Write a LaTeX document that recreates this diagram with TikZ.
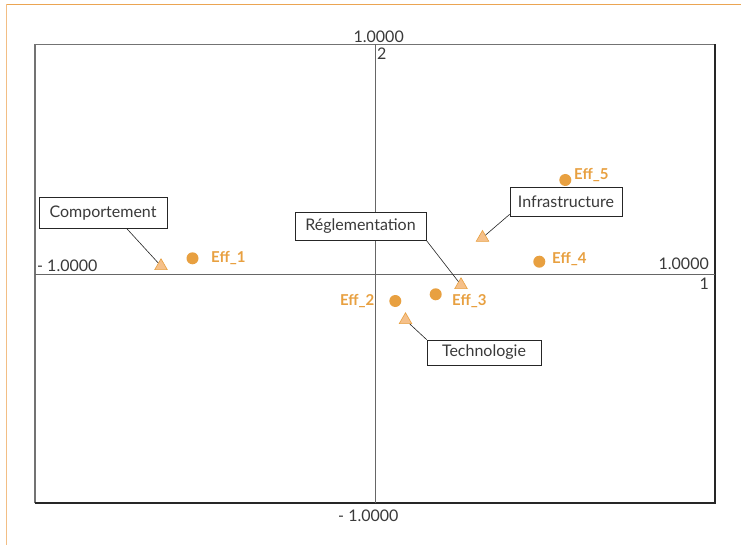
\documentclass[tikz,border=0pt]{standalone}
\usepackage{fontspec}
\setmainfont{Lato}
\usetikzlibrary{shapes.geometric}
\definecolor{orangeA}{HTML}{E8A040}
\definecolor{orangeL}{HTML}{F5C08A}
\definecolor{frameO}{HTML}{EBA552}
\definecolor{frameOL}{HTML}{F2BE85}
\definecolor{txt}{HTML}{3A3A3A}
\tikzset{
 axlab/.style={inner sep=0pt, text=txt, font=\fontsize{16}{19}\selectfont},
 efflab/.style={inner sep=0pt, text=orangeA, font=\fontsize{15}{18}\selectfont\bfseries},
 effdot/.style={circle, fill=orangeA, minimum size=12pt, inner sep=0pt},
 factri/.style={regular polygon, regular polygon sides=3, draw=orangeA, fill=orangeL, minimum size=14.5pt, inner sep=0pt, line width=0.6pt},
 labbox/.style={draw=black!85, fill=white, line width=0.7pt, text=txt, font=\fontsize{16}{19}\selectfont, inner sep=0pt},
 conn/.style={draw=black!85, line width=0.6pt},
 frameline/.style={line width=1.6pt},
 axisline/.style={draw=black!60, line width=1pt},
}
\begin{document}
\begin{tikzpicture}[x=1pt,y=-1pt]
\useasboundingbox (0,0) rectangle (741,545);
\fill[white] (0,0) rectangle (741,545);
% outer orange frame
\draw[frameline, frameO] (6,4.5) -- (741,4.5);
\draw[frameline, frameOL] (6.5,4.5) -- (6.5,545);
% plot frame
\draw[line width=1.2pt, black!55] (35,503) -- (35,44.5) -- (715,44.5);
\draw[line width=1.2pt, black!85] (715,44.5) -- (715,503) -- (35,503);
% axes
\draw[axisline] (375.5,44.5) -- (375.5,503);
\draw[axisline] (35,274) -- (715,274);
% axis labels
\node[axlab, anchor=base east] (ytop) at (404,42.5) {1.0000};
\node[axlab, anchor=base west] (yname) at (377,60) {2};
\node[axlab, anchor=base west] (xleft) at (37,271.5) {- 1.0000};
\node[axlab, anchor=base east] (xright) at (709,269.5) {1.0000};
\node[axlab, anchor=base east] (xname) at (709,289) {1};
\node[axlab, anchor=base west] (ybot) at (338,521) {- 1.0000};
% effects
\node[effdot] (e1) at (192.5,258.3) {};
\node[effdot] (e2) at (395.3,301) {};
\node[effdot] (e3) at (435.7,294.3) {};
\node[effdot] (e4) at (539.3,261.7) {};
\node[effdot] (e5) at (565.3,180) {};
\node[efflab, anchor=base west] (l1) at (211,262.5) {Eff\_1};
\node[efflab, anchor=base east] (l2) at (374.5,305) {Eff\_2};
\node[efflab, anchor=base west] (l3) at (452,305) {Eff\_3};
\node[efflab, anchor=base west] (l4) at (552,263) {Eff\_4};
\node[efflab, anchor=base west] (l5) at (574,180) {Eff\_5};
% factors
\node[factri] (tC) at (161,266) {};
\node[factri] (tR) at (461,285) {};
\node[factri] (tI) at (482.5,237.7) {};
\node[factri] (tT) at (405.5,320) {};
% label boxes
\node[labbox, minimum width=128pt, minimum height=31pt] (bC) at (103,213) {Comportement};
\node[labbox, minimum width=131pt, minimum height=28pt] (bR) at (360.5,226) {Réglementation};
\node[labbox, minimum width=112pt, minimum height=29pt] (bI) at (566,201.5) {Infrastructure};
\node[labbox, minimum width=114pt, minimum height=25pt] (bT) at (484,352.5) {Technologie};
% connectors
\draw[conn] ([xshift=24pt]bC.south) -- (tC);
\draw[conn] (bR.south east) -- (tR);
\draw[conn] ([yshift=2pt]bI.south west) -- (tI);
\draw[conn] (tT) -- (bT.north west);
\end{tikzpicture}
\end{document}
